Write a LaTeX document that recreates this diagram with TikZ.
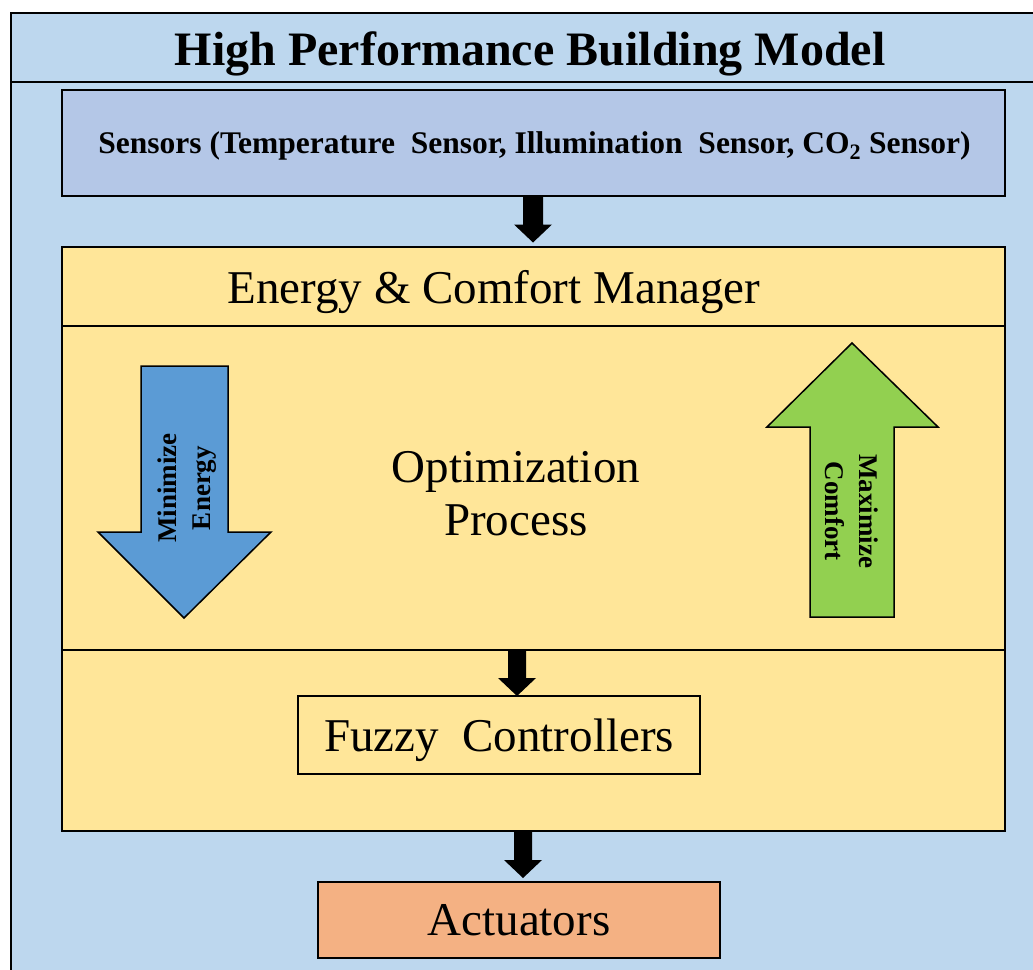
\documentclass[tikz,border=0pt]{standalone}
\usepackage{fontspec}
\setmainfont{Liberation Serif}
\usetikzlibrary{calc}

\definecolor{frameblue}{HTML}{BDD7EE}
\definecolor{sensorblue}{HTML}{B4C7E7}
\definecolor{mgryellow}{HTML}{FFE699}
\definecolor{minblue}{HTML}{5B9BD5}
\definecolor{maxgreen}{HTML}{92D050}
\definecolor{actorange}{HTML}{F4B183}

% Solid downward block arrow: start, end, shaft half width, head half width, head length
\newcommand\blockarrow[5]{%
  \fill[black] let \p1=(#1), \p2=(#2) in
    (\x1-#3pt,\y1) -- (\x1+#3pt,\y1) -- (\x1+#3pt,\y2+#5pt) -- (\x1+#4pt,\y2+#5pt)
    -- (\x1,\y2) -- (\x1-#4pt,\y2+#5pt) -- (\x1-#3pt,\y2+#5pt) -- cycle;}

\tikzset{
  bigtext/.style={font=\fontsize{47}{53}\selectfont},
  box/.style={draw=black, inner sep=0pt, outer sep=0pt},
  sidetext/.style={font=\bfseries\fontsize{27}{34}\selectfont, align=center, inner sep=0pt},
  bigarrow/.style={draw=black, line width=1.5pt, line join=miter}
}

\begin{document}
\begin{tikzpicture}[x=1pt,y=-1pt]
\useasboundingbox (0,0) rectangle (1033,969);
\path[clip] (0,0) rectangle (1033,969);

% outer model frame with title band
\draw[fill=frameblue, line width=2.5pt] (11,13) rectangle (1050,990);
\coordinate (bandL) at (11,82);
\draw[line width=2pt] (bandL) -- (bandL -| 1050,0);
\node[font=\bfseries\fontsize{48}{56}\selectfont, anchor=base, inner sep=0pt] (title) at (530,65)
  {High Performance Building Model};

% sensors
\node[box, fill=sensorblue, line width=2pt, minimum width=943pt, minimum height=106pt] (sens) at (533.5,143) {};
\node[font=\bfseries\fontsize{31.5}{36}\selectfont, anchor=base, inner sep=0pt] (senstext) at (534.5,153)
  {Sensors (Temperature\ \ Sensor, Illumination\ \ Sensor, CO\textsubscript{2} Sensor)};

% energy & comfort manager
\node[box, fill=mgryellow, line width=2pt, minimum width=943pt, minimum height=584pt] (mgr) at (533.5,538.5) {};
\node[bigtext, anchor=base, inner sep=0pt] (mgrtext) at (494,303) {Energy \& Comfort Manager};
\coordinate (divA) at (62,326);
\coordinate (divB) at (62,650);
\draw[line width=1.5pt] (divA) -- (divA -| mgr.east);
\draw[line width=1.5pt] (divB) -- (divB -| mgr.east);

% optimisation process with its two objectives
\node[bigtext, align=center, inner sep=0pt] (opt) at (516,494) {Optimization\\Process};

\draw[bigarrow, fill=minblue] (141,366) -- (228,366) -- (228,532) -- (271,532) -- (184,618)
  -- (98,532) -- (141,532) -- cycle;
\node[sidetext, rotate=90] (minE) at (187,488) {Minimize\\Energy};

\draw[bigarrow, fill=maxgreen] (852,343) -- (938,427) -- (894,427) -- (894,617) -- (810,617)
  -- (810,427) -- (767,427) -- cycle;
\node[sidetext, rotate=-90] (maxC) at (852,511) {Maximize\\Comfort};

% fuzzy controllers
\node[box, line width=1.5pt, minimum width=402pt, minimum height=78pt, bigtext,
      text height=32pt, text depth=0pt] (fuzzy) at (499,735) {Fuzzy\ \ Controllers};

% actuators
\node[box, fill=actorange, line width=1.5pt, minimum width=402pt, minimum height=76pt, bigtext]
  (act) at (519,920) {Actuators};

% data flow
\blockarrow{$(sens.south)+(-0.5,0)$}{$(mgr.north)+(0,-4)$}{10}{19}{18}
\blockarrow{$(divB -| fuzzy.north)+(18,0)$}{fuzzy.north}{9}{19}{18}
\blockarrow{$(mgr.south -| act.north)+(4,0)$}{$(act.north)+(0,-4)$}{9}{19}{18}
\end{tikzpicture}
\end{document}
